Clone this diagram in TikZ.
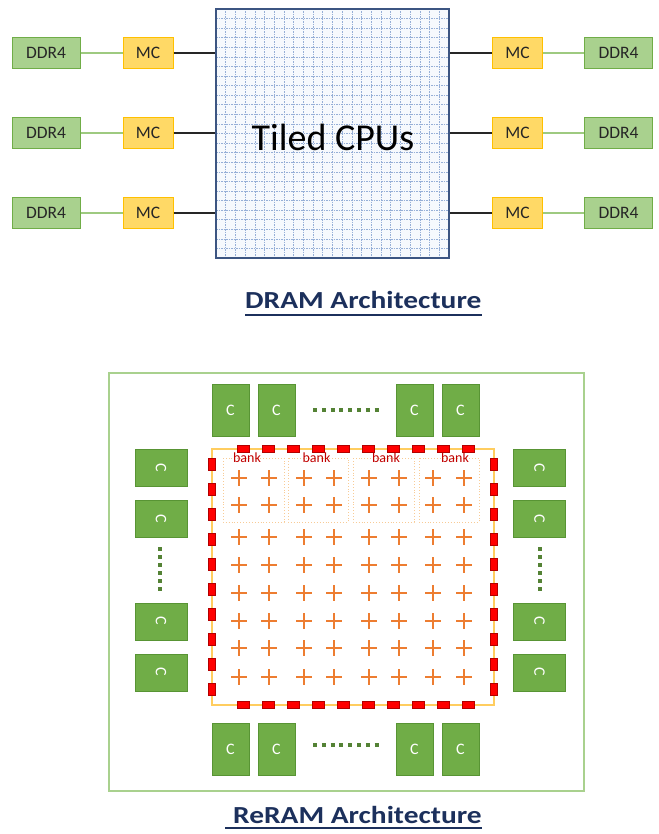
\documentclass[tikz,border=0pt]{standalone}
\usepackage{fontspec}
\setmainfont{Carlito}
\newfontfamily\titlefont[FakeStretch=1.2]{Carlito}
\usetikzlibrary{calc}

\definecolor{ddrfill}{RGB}{169,209,142}
\definecolor{ddrline}{RGB}{112,173,71}
\definecolor{mcfill}{RGB}{255,217,102}
\definecolor{mcline}{RGB}{255,192,0}
\definecolor{corefill}{RGB}{112,173,71}
\definecolor{coreline}{RGB}{88,148,52}
\definecolor{dotgreen}{RGB}{84,130,53}
\definecolor{gridblue}{RGB}{150,175,215}
\definecolor{cpufill}{RGB}{246,249,253}
\definecolor{cpuline}{RGB}{60,85,130}
\definecolor{navy}{RGB}{28,48,92}
\definecolor{plusorange}{RGB}{237,125,49}
\definecolor{arrayline}{RGB}{255,205,95}
\definecolor{bankline}{RGB}{248,203,150}
\definecolor{banktext}{RGB}{192,0,0}
\definecolor{dashred}{RGB}{255,0,0}
\definecolor{framegreen}{RGB}{169,209,142}

\begin{document}
\begin{tikzpicture}[x=1pt,y=-1pt,
  ddr/.style={draw=ddrline, fill=ddrfill, line width=1pt, minimum width=68pt,
    minimum height=31pt, inner sep=0pt, text=black!85,
    font=\fontsize{17.5}{17.5}\selectfont},
  mc/.style={draw=mcline, fill=mcfill, line width=1pt, minimum width=50pt,
    minimum height=31pt, inner sep=0pt, text=black!85,
    font=\fontsize{17.5}{17.5}\selectfont},
  core/.style={draw=coreline, fill=corefill, line width=0.8pt, inner sep=0pt,
    text=white, font=\fontsize{16}{16}\selectfont},
  corev/.style={core, minimum width=37pt, minimum height=52pt},
  coreh/.style={core, minimum width=52pt, minimum height=37pt},
  greenlink/.style={ddrfill!80!ddrline, line width=1.2pt},
  blacklink/.style={black!85, line width=1.2pt},
  titletext/.style={inner sep=0pt, text=navy, font=\titlefont\bfseries\fontsize{24.5}{24.5}\selectfont},
  underbar/.style={navy, line width=2.2pt},
  banktag/.style={inner sep=0pt, text=banktext, font=\fontsize{14}{14}\selectfont},
  dotrow/.style={dotgreen, line width=4pt, dash pattern=on 4pt off 4.8pt},
  redbar/.style={fill=dashred, draw=dashred!70!black, line width=0.4pt},
  crosshair/.style={plusorange, line width=2.1pt}
]
\useasboundingbox[fill=white] (0,0) rectangle (658,834);

% ---------------- DRAM architecture ----------------
\node[draw=cpuline, fill=cpufill, line width=1.3pt, minimum width=233pt,
  minimum height=249pt, inner sep=0pt] (cpu) at (332.5,133.5) {};
\begin{scope}
  \clip (216,9) rectangle (449,258);
  \foreach \i in {1,...,23}
    \draw[gridblue, line width=0.6pt, dash pattern=on 1.5pt off 1pt]
      (216+\i*9.708,9) -- (216+\i*9.708,258);
  \foreach \j in {1,...,25}
    \draw[gridblue, line width=0.6pt, dash pattern=on 1.5pt off 1pt]
      (216,9+\j*9.577) -- (449,9+\j*9.577);
\end{scope}
\draw[cpuline, line width=1.3pt] (216,9) rectangle (449,258);
\node[inner sep=0pt, font=\fontsize{38}{38}\selectfont] (cpulabel) at (333,137) {Tiled CPUs};

\foreach \r/\y in {1/53, 2/133, 3/213} {
  \node[ddr] (ddrL\r) at (46,\y) {DDR4};
  \node[mc]  (mcL\r)  at (148,\y) {MC};
  \node[mc]  (mcR\r)  at (517.5,\y) {MC};
  \node[ddr] (ddrR\r) at (618.5,\y) {DDR4};
  \draw[greenlink] (ddrL\r) -- (mcL\r);
  \draw[greenlink] (mcR\r) -- (ddrR\r);
  \draw[blacklink] (mcL\r.east) -- (mcL\r.east -| cpu.west);
  \draw[blacklink] (mcR\r.west) -- (mcR\r.west -| cpu.east);
}

\node[titletext, anchor=base west] (dramT) at (245,308) {DRAM Architecture};
\draw[underbar] ($(dramT.base west)+(0,7)$) -- ($(dramT.base east)+(0,7)$);

% ---------------- ReRAM architecture ----------------
\draw[framegreen, line width=1.2pt] (109,373) rectangle (584,791);

% cores along the four sides
\foreach \n/\x in {1/230.5, 2/276.5, 3/414.5, 4/460.5} {
  \node[corev] (top\n) at (\x,410) {C};
  \node[corev] (bot\n) at (\x,749) {C};
}
\foreach \n/\y in {1/468, 2/519, 3/621.5, 4/672.5} {
  \node[coreh] (lft\n) at (161,\y) {\rotatebox[origin=c]{-90}{C}};
  \node[coreh] (rgt\n) at (539.5,\y) {\rotatebox[origin=c]{-90}{C}};
}
\draw[dotrow] (313,410) -- (379,410);
\draw[dotrow] (313,745) -- (379,745);
\draw[dotrow, dash pattern=on 4pt off 4pt] (160,547) -- (160,592);
\draw[dotrow, dash pattern=on 4pt off 4pt] (539.5,547) -- (539.5,592);

% crossbar array
\draw[arrayline, line width=1.5pt] (212,449) rectangle (494,705);
\foreach \bx/\ex in {223/284, 288/348, 353/414, 419/479}
  \draw[bankline, line width=0.9pt, dotted] (\bx,458) rectangle (\ex,522);
\foreach \cx in {247, 316.5, 386, 455}
  \node[banktag, anchor=base] at (\cx,462) {bank};

\foreach \x in {239, 269, 304, 334, 369, 399, 433, 464}
  \foreach \y in {478, 505, 537, 565, 593, 621, 648, 677}
    \draw[crosshair] (\x-8,\y) -- (\x+8,\y) (\x,\y-8) -- (\x,\y+8);

% red dashed boundary
\foreach \i in {0,...,9} {
  \path[redbar] (237+25*\i,445.5) rectangle ++(12,7);
  \path[redbar] (237+25*\i,701.5) rectangle ++(12,7);
  \path[redbar] (208.5,458+25*\i) rectangle ++(7,12);
  \path[redbar] (490.5,458+25*\i) rectangle ++(7,12);
}

\node[titletext, anchor=base west] (reramT) at (233,823) {ReRAM Architecture};
\draw[underbar] ($(reramT.base west)+(-8,5)$) -- ($(reramT.base east)+(0,5)$);
\end{tikzpicture}
\end{document}
